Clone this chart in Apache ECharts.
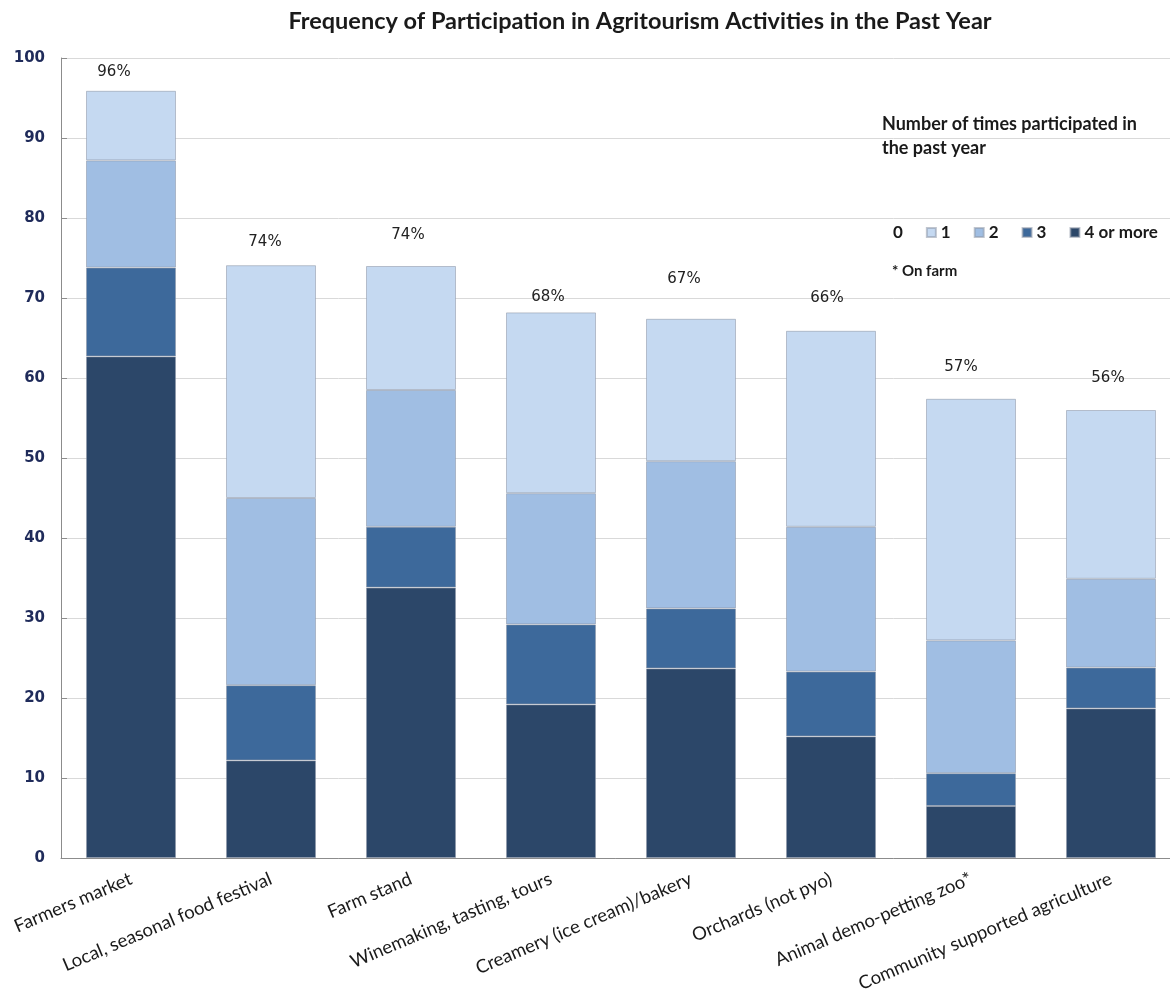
<!DOCTYPE html>
<html>
<head>
<meta charset="utf-8">
<script src="https://cdn.jsdelivr.net/npm/echarts@6/dist/echarts.min.js"></script>
<style>
  html, body { margin: 0; padding: 0; background: #ffffff; }
  #chart { width: 1170px; height: 991px; }
</style>
</head>
<body>
<div id="chart"></div>
<script>
// Activities surveyed
const categories = [
  'Farmers market',
  'Local, seasonal food festival',
  'Farm stand',
  'Winemaking, tasting, tours',
  'Creamery (ice cream)/bakery',
  'Orchards (not pyo)',
  'Animal demo-petting zoo*',
  'Community supported agriculture'
];

// Share of respondents (%) by number of times participated in the past year
const timesFourOrMore = [62.7, 12.2, 33.8, 19.2, 23.7, 15.2, 6.5, 18.7];
const timesThree      = [11.1,  9.4,  7.6, 10.0,  7.5,  8.1, 4.1,  5.1];
const timesTwo        = [13.4, 23.4, 17.1, 16.4, 18.4, 18.1, 16.6, 11.1];
const timesOne        = [ 8.7, 29.1, 15.5, 22.6, 17.8, 24.5, 30.2, 21.1];

const legendNames = ['0', '1', '2', '3', '4 or more'];
const yTicks = { min: 0, max: 100, interval: 10 };

// Nudges for the total labels above each bar, in pixels [dx, dy]
const totalLabelNudge = [[-17, -6], [-6, -11], [-3, -18], [-3, -3], [-7, -27], [-4, -20], [-10, -19], [-3, -19]];

const colors = {
  four: '#2c4769',
  three: '#3d699b',
  two: '#a0bee3',
  one: '#c5d9f1'
};

function totalAt(i) {
  return timesFourOrMore[i] + timesThree[i] + timesTwo[i] + timesOne[i];
}

const barBorder = { borderColor: 'rgba(140,150,165,0.55)', borderWidth: 1 };

function seriesOf(name, values, color) {
  return {
    name: name,
    type: 'bar',
    stack: 'total',
    barWidth: 90,
    data: values,
    itemStyle: Object.assign({ color: color }, barBorder),
    emphasis: { disabled: true }
  };
}

const topSeries = seriesOf('1', timesOne.map(function (v, i) {
  return {
    value: v,
    label: { offset: totalLabelNudge[i] }
  };
}), colors.one);
topSeries.label = {
  show: true,
  position: 'top',
  distance: 5,
  fontFamily: 'DejaVu Sans',
  fontSize: 15,
  color: '#222222',
  formatter: function (p) { return Math.round(totalAt(p.dataIndex)) + '%'; }
};

const chart = echarts.init(document.getElementById('chart'), null, { renderer: 'canvas' });

chart.setOption({
  animation: false,
  backgroundColor: '#ffffff',
  grid: { left: 61, top: 58, width: 1120, height: 800, containLabel: false, outerBoundsMode: 'none' },
  graphic: [
    {
      type: 'text',
      x: 640, y: 21,
      style: {
        text: 'Frequency of Participation in Agritourism Activities in the Past Year',
        font: 'bold 23.5px Lato',
        fill: '#1a1a1a',
        align: 'center',
        verticalAlign: 'middle'
      }
    },
    {
      type: 'text',
      left: 882, top: 112,
      style: {
        text: 'Number of times participated in\nthe past year',
        font: 'bold 18px Lato',
        lineHeight: 24,
        fill: '#1a1a1a'
      }
    },
    {
      type: 'text',
      left: 892, top: 264,
      style: {
        text: '* On farm',
        font: 'bold 15px Lato',
        fill: '#1a1a1a'
      }
    }
  ],
  legend: {
    left: 874,
    top: 219,
    width: 296,
    itemWidth: 9,
    itemHeight: 9,
    itemGap: 23,
    icon: 'rect',
    data: legendNames,
    textStyle: { fontFamily: 'Lato', fontWeight: 'bold', fontSize: 17, color: '#1a1a1a' },
    selectedMode: false
  },
  xAxis: {
    type: 'category',
    data: categories,
    axisLine: { show: true, lineStyle: { color: '#8c8c8c', width: 1 } },
    axisTick: { show: false },
    axisLabel: {
      rotate: 23,
      margin: 20,
      interval: 0,
      fontFamily: 'Lato',
      fontSize: 18.5,
      color: '#1a1a1a'
    }
  },
  yAxis: {
    type: 'value',
    min: yTicks.min,
    max: yTicks.max,
    interval: yTicks.interval,
    axisLine: { show: true, lineStyle: { color: '#8c8c8c', width: 1 } },
    axisTick: { show: true, inside: true, length: 6, lineStyle: { color: '#8c8c8c' } },
    splitLine: { show: true, lineStyle: { color: '#d9d9d9', width: 1 } },
    axisLabel: {
      margin: 16,
      fontFamily: 'DejaVu Sans',
      fontWeight: 'bold',
      fontSize: 15,
      color: '#1f2b5a'
    }
  },
  series: [
    {
      name: '0',
      type: 'bar',
      stack: 'total',
      barWidth: 90,
      data: [],
      itemStyle: { color: 'rgba(255,255,255,0)' }
    },
    seriesOf('4 or more', timesFourOrMore, colors.four),
    seriesOf('3', timesThree, colors.three),
    seriesOf('2', timesTwo, colors.two),
    topSeries
  ]
});
</script>
</body>
</html>
